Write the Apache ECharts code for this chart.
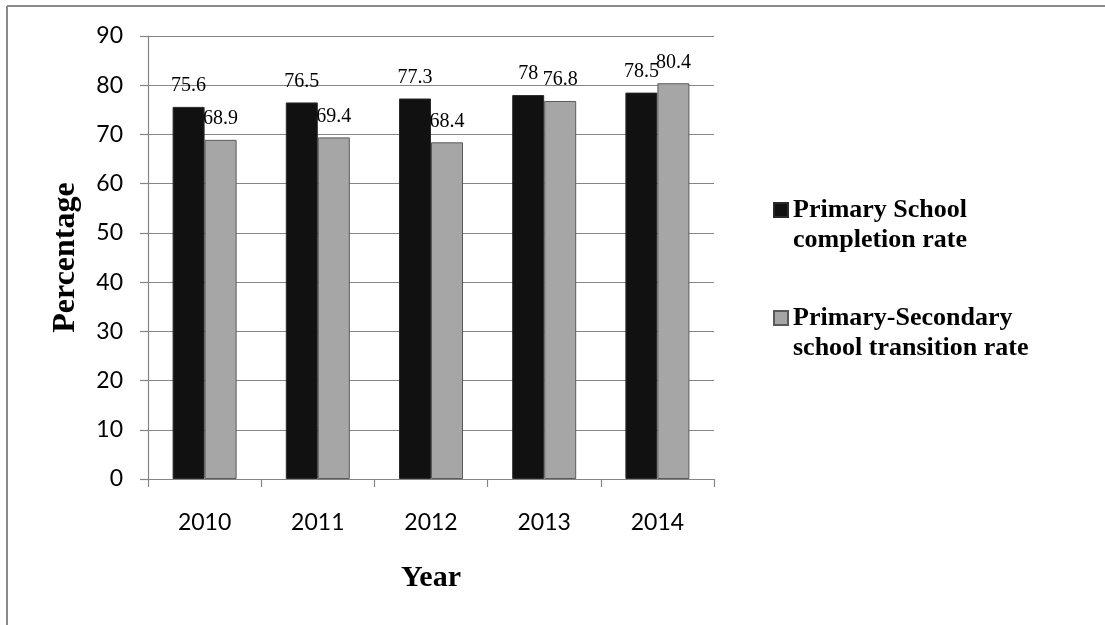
<!DOCTYPE html>
<html>
<head>
<meta charset="utf-8">
<title>Primary school completion and transition rates</title>
<script src="https://cdn.jsdelivr.net/npm/echarts@6/dist/echarts.min.js"></script>
<style>
  html, body { margin: 0; padding: 0; background: #fff; }
  #chart { width: 1105px; height: 625px; }
</style>
</head>
<body>
<div id="chart"></div>
<script>
// Years on the category axis
const years = ['2010', '2011', '2012', '2013', '2014'];
// Primary school completion rate (%)
const completionRate = [75.6, 76.5, 77.3, 78, 78.5];
// Primary-to-secondary school transition rate (%)
const transitionRate = [68.9, 69.4, 68.4, 76.8, 80.4];
// Series names shown in the legend
const seriesNames = ['Primary School\ncompletion rate', 'Primary-Secondary\nschool transition rate'];

const serif = "'Liberation Serif', 'Times New Roman', serif";
const sans = "Lato, 'Open Sans', sans-serif";
const gridGray = '#858585';

const chart = echarts.init(document.getElementById('chart'), null, { renderer: 'canvas' });

const labelStyle = {
  show: true,
  position: 'top',
  distance: 11,
  color: '#000',
  fontFamily: serif,
  fontSize: 20
};

chart.setOption({
  animation: false,
  backgroundColor: '#fff',
  graphic: [
    { type: 'line', shape: { x1: 7, y1: 6, x2: 1105, y2: 6 }, style: { stroke: '#8a8a8a', lineWidth: 2 } },
    { type: 'line', shape: { x1: 7, y1: 6, x2: 7, y2: 625 }, style: { stroke: '#8a8a8a', lineWidth: 2 } }
  ],
  grid: { left: 148, right: 391, top: 36, bottom: 146 },
  legend: {
    orient: 'vertical',
    left: 773,
    top: 165,
    padding: 0,
    itemGap: 18,
    itemWidth: 14,
    itemHeight: 14,
    icon: 'rect',
    data: seriesNames,
    // a blank first line keeps the marker level with the first line of the name
    formatter: name => '\n' + name,
    textStyle: {
      color: '#000',
      fontFamily: serif,
      fontWeight: 'bold',
      fontSize: 26,
      lineHeight: 30
    }
  },
  xAxis: {
    type: 'category',
    data: years,
    name: 'Year',
    nameLocation: 'middle',
    nameGap: 84,
    nameTextStyle: { color: '#000', fontFamily: serif, fontWeight: 'bold', fontSize: 30 },
    axisLine: { lineStyle: { color: gridGray, width: 1.2 } },
    axisTick: { show: true, length: 8, lineStyle: { color: gridGray, width: 1.2 } },
    axisLabel: { color: '#000', fontFamily: sans, fontSize: 23, margin: 32 }
  },
  yAxis: {
    type: 'value',
    min: 0,
    max: 90,
    interval: 10,
    name: 'Percentage',
    nameLocation: 'middle',
    nameRotate: 90,
    nameGap: 66,
    nameTextStyle: { color: '#000', fontFamily: serif, fontWeight: 'bold', fontSize: 32 },
    axisLine: { show: true, lineStyle: { color: gridGray, width: 1.2 } },
    axisTick: { show: true, length: 8, lineStyle: { color: gridGray, width: 1.2 } },
    splitLine: { show: true, lineStyle: { color: gridGray, width: 1.2 } },
    axisLabel: { color: '#000', fontFamily: sans, fontSize: 23, margin: 25 }
  },
  series: [
    {
      name: seriesNames[0],
      type: 'bar',
      data: completionRate,
      barWidth: 32,
      barGap: '0%',
      itemStyle: { color: '#111111', borderColor: '#2a2a2a', borderWidth: 1 },
      label: labelStyle
    },
    {
      name: seriesNames[1],
      type: 'bar',
      data: transitionRate,
      barWidth: 32,
      barGap: '0%',
      itemStyle: { color: '#a6a6a6', borderColor: '#5a5a5a', borderWidth: 1 },
      label: labelStyle
    }
  ]
});
</script>
</body>
</html>
